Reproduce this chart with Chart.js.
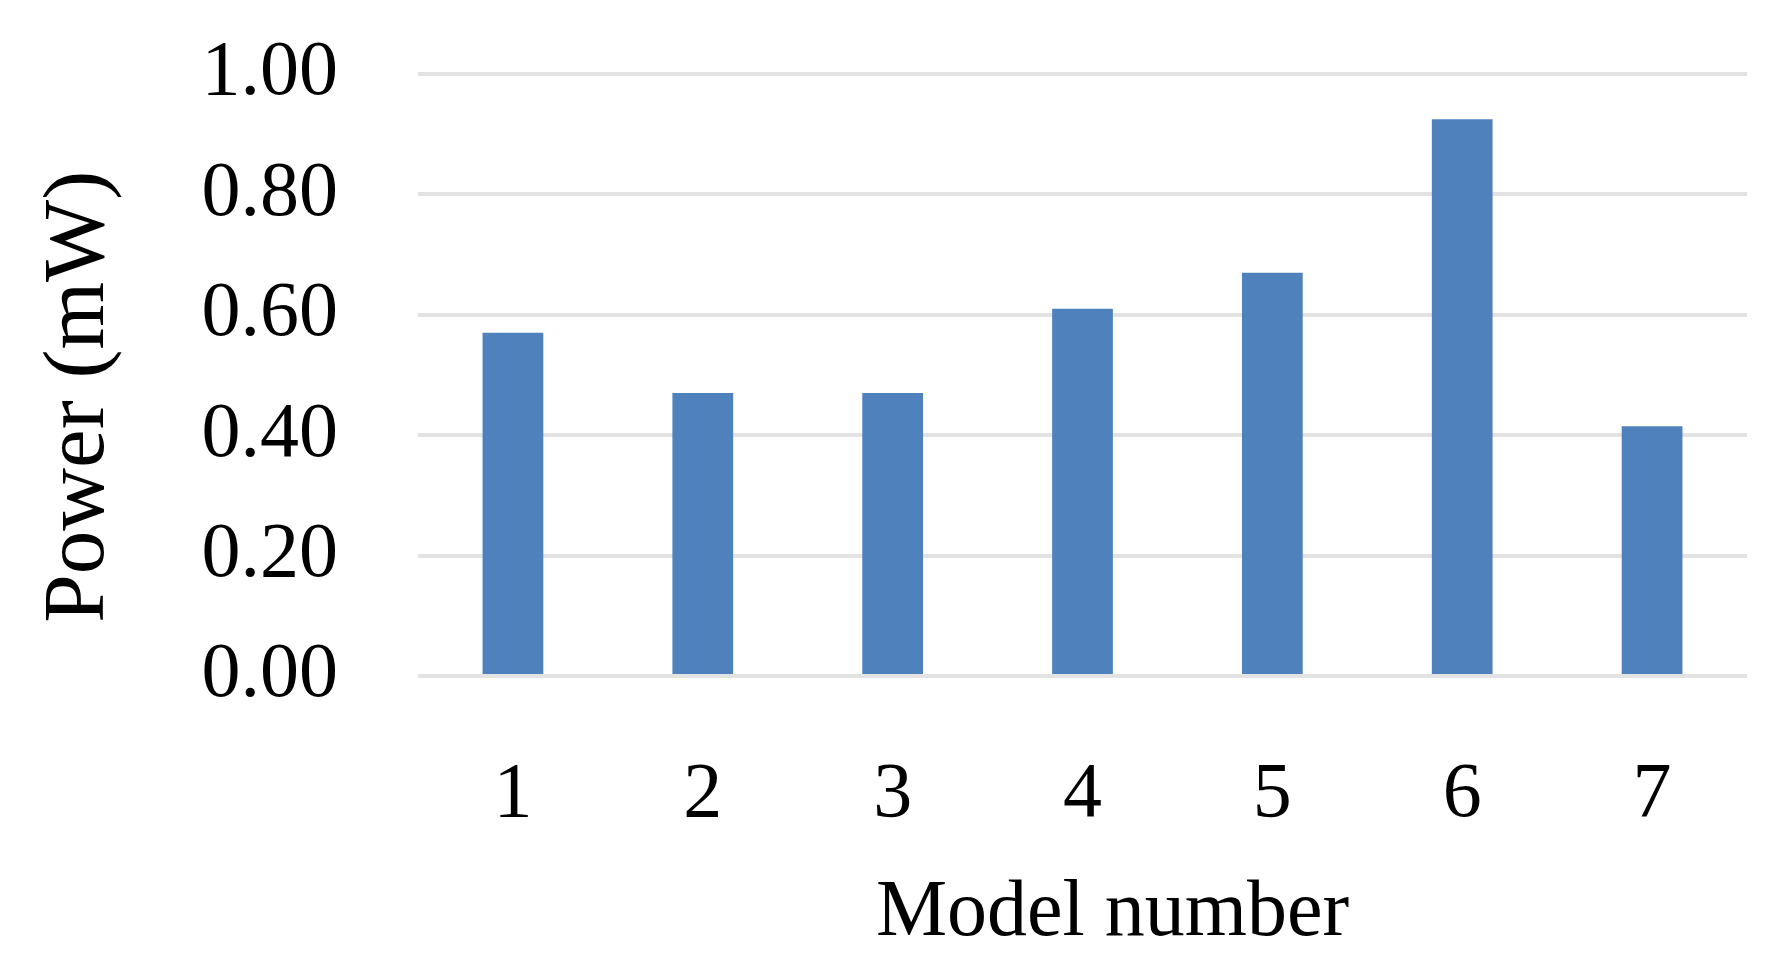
<!DOCTYPE html>
<html lang="en">
<head>
    <meta charset="UTF-8">
    <title>Power per model</title>
    <style>
        html, body {
            margin: 0;
            padding: 0;
            background: #fff;
        }
        #wrap {
            width: 1784px;
            height: 965px;
            position: relative;
        }
    </style>
    <script src="https://cdn.jsdelivr.net/npm/chart.js"></script>
</head>
<body>
    <div id="wrap">
        <canvas id="powerChart"></canvas>
    </div>
    <script>
        // data
        const models = ['1', '2', '3', '4', '5', '6', '7'];
        const powerMw = [0.57, 0.47, 0.47, 0.61, 0.67, 0.925, 0.415];
        const yTicks = [0, 0.2, 0.4, 0.6, 0.8, 1.0];

        const serif = "'Liberation Serif', 'Times New Roman', serif";

        const ctx = document.getElementById('powerChart').getContext('2d');
        const powerChart = new Chart(ctx, {
            type: 'bar',
            data: {
                labels: models,
                datasets: [{
                    label: 'Power (mW)',
                    data: powerMw,
                    backgroundColor: '#4f81bd',
                    borderWidth: 0,
                    barPercentage: 0.32,
                    categoryPercentage: 1.0
                }]
            },
            options: {
                responsive: true,
                maintainAspectRatio: false,
                animation: false,
                layout: {
                    padding: { top: 74, right: 37, bottom: 0, left: 0 }
                },
                plugins: {
                    legend: { display: false },
                    tooltip: { enabled: false }
                },
                scales: {
                    x: {
                        grid: { display: false },
                        border: { display: false },
                        ticks: {
                            color: '#000',
                            font: { family: serif, size: 78 },
                            padding: 65
                        },
                        title: {
                            display: true,
                            // leading spaces nudge the title right like the original
                            text: '   Model number',
                            color: '#000',
                            font: { family: serif, size: 80 },
                            padding: { top: 0, bottom: 3 }
                        },
                        afterFit: (scale) => { scale.height = 289; }
                    },
                    y: {
                        min: 0,
                        max: 1,
                        afterBuildTicks: (scale) => {
                            scale.ticks = yTicks.map(v => ({ value: v }));
                        },
                        grid: {
                            color: '#e3e3e3',
                            lineWidth: 4,
                            drawTicks: true,
                            tickLength: 80,   // invisible ticks give the gap before the labels
                            tickColor: 'rgba(0,0,0,0)'
                        },
                        border: { display: false },
                        ticks: {
                            color: '#000',
                            font: { family: serif, size: 78 },
                            padding: 0,
                            callback: (v) => Number(v).toFixed(2)
                        },
                        title: {
                            display: true,
                            text: 'Power (mW)  ',
                            color: '#000',
                            font: { family: serif, size: 87 },
                            padding: { top: 28, bottom: 0 }
                        },
                        afterFit: (scale) => { scale.width = 418; }
                    }
                }
            }
        });
    </script>
</body>
</html>
